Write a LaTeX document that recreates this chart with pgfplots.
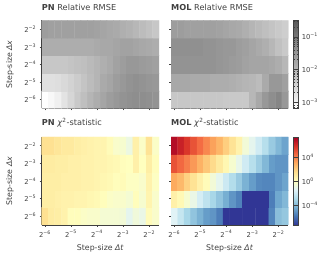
\documentclass[border=0pt]{standalone}
\usepackage{fontspec}
\setmainfont{DejaVu Sans}
\usepackage{pgfplots}
\pgfplotsset{compat=1.18}
\definecolor{ink}{gray}{0.25}
\pgfplotsset{
  greyscale/.style={colormap={greyscale}{gray=(1) gray=(0.35)},point meta min=-3.2,point meta max=-0.5},
  rdylbu/.style={colormap={rdylbu}{rgb255=(49,54,149) rgb255=(69,117,180) rgb255=(116,173,209) rgb255=(171,217,233) rgb255=(224,243,248) rgb255=(255,255,191) rgb255=(254,224,144) rgb255=(253,174,97) rgb255=(244,109,67) rgb255=(215,48,39) rgb255=(165,0,38)},point meta min=-7.3,point meta max=7.3},
  panel/.style={
    scale only axis,width=117.3pt,height=88pt,
    xmin=-6.125,xmax=-1.625,ymin=-6.5,ymax=-1.5,
    axis x line*=bottom,axis y line*=left,
    axis line style={-,draw=ink,line width=0.9pt},
    tick align=outside,major tick length=2pt,
    tick style={draw=ink,line width=0.6pt},
    xtick={-6,-5,-4,-3,-2},ytick={-6,-5,-4,-3,-2},
    tick label style={font=\fontsize{6.8}{7}\selectfont,text=ink},
    every axis y label/.style={at={(axis description cs:-0.27,0.5)},rotate=90,anchor=center,font=\fontsize{7.8}{8}\selectfont,text=ink},
    every axis x label/.style={at={(axis description cs:0.5,-0.27)},anchor=center,font=\fontsize{7.8}{8}\selectfont,text=ink},
    title style={font=\fontsize{8.2}{9}\selectfont,text=ink,at={(0,1)},anchor=south west,inner xsep=0pt,yshift=0pt},
    xticklabels={},yticklabels={},
    point meta=explicit,
    enlargelimits=false,
  },
  xnames/.style={xticklabels={2\textsuperscript{−6},2\textsuperscript{−5},2\textsuperscript{−4},2\textsuperscript{−3},2\textsuperscript{−2}},xlabel={Step-size \textit{Δt}}},
  ynames/.style={yticklabels={2\textsuperscript{−6},2\textsuperscript{−5},2\textsuperscript{−4},2\textsuperscript{−3},2\textsuperscript{−2}},ylabel={Step-size \textit{Δx}}},
  cbar/.style={colorbar,colorbar style={
    width=5pt,xshift=-4pt,
    axis line style={draw=ink,line width=0.6pt},
    tick style={draw=ink,line width=0.5pt},
    minor tick style={draw=ink,line width=0.25pt},
    tick label style={font=\fontsize{6.8}{7}\selectfont,text=ink},
    #1}},
}
\begin{document}
\begin{tikzpicture}
\useasboundingbox (0,0) rectangle (326pt,261pt);
% PN RMSE
\begin{axis}[panel,ynames,greyscale,at={(41.7pt,152.5pt)},anchor=south west,title={\textbf{PN} Relative RMSE}]
\addplot[matrix plot*,mesh/cols=18] coordinates {
(-6,-6)[-3.20](-5.75,-6)[-3.08](-5.5,-6)[-2.95](-5.25,-6)[-2.74](-5,-6)[-2.54](-4.75,-6)[-2.33](-4.5,-6)[-2.16](-4.25,-6)[-2.00](-4,-6)[-1.87](-3.75,-6)[-1.75](-3.5,-6)[-1.62](-3.25,-6)[-1.54](-3,-6)[-1.46](-2.75,-6)[-1.41](-2.5,-6)[-1.37](-2.25,-6)[-1.37](-2,-6)[-1.41](-1.75,-6)[-1.46]

(-6,-5)[-2.70](-5.75,-5)[-2.70](-5.5,-5)[-2.66](-5.25,-5)[-2.58](-5,-5)[-2.49](-4.75,-5)[-2.37](-4.5,-5)[-2.24](-4.25,-5)[-2.12](-4,-5)[-2.00](-3.75,-5)[-1.83](-3.5,-5)[-1.75](-3.25,-5)[-1.62](-3,-5)[-1.54](-2.75,-5)[-1.46](-2.5,-5)[-1.41](-2.25,-5)[-1.46](-2,-5)[-1.50](-1.75,-5)[-1.54]

(-6,-4)[-2.29](-5.75,-4)[-2.29](-5.5,-4)[-2.29](-5.25,-4)[-2.29](-5,-4)[-2.24](-4.75,-4)[-2.20](-4.5,-4)[-2.16](-4.25,-4)[-2.08](-4,-4)[-2.00](-3.75,-4)[-1.91](-3.5,-4)[-1.83](-3.25,-4)[-1.70](-3,-4)[-1.62](-2.75,-4)[-1.54](-2.5,-4)[-1.54](-2.25,-4)[-1.58](-2,-4)[-1.62](-1.75,-4)[-1.66]

(-6,-3)[-1.87](-5.75,-3)[-1.87](-5.5,-3)[-1.87](-5.25,-3)[-1.87](-5,-3)[-1.87](-4.75,-3)[-1.87](-4.5,-3)[-1.87](-4.25,-3)[-1.87](-4,-3)[-1.83](-3.75,-3)[-1.79](-3.5,-3)[-1.79](-3.25,-3)[-1.75](-3,-3)[-1.70](-2.75,-3)[-1.70](-2.5,-3)[-1.75](-2.25,-3)[-1.79](-2,-3)[-1.83](-1.75,-3)[-1.87]

(-6,-2)[-1.62](-5.75,-2)[-1.66](-5.5,-2)[-1.66](-5.25,-2)[-1.66](-5,-2)[-1.66](-4.75,-2)[-1.66](-4.5,-2)[-1.66](-4.25,-2)[-1.66](-4,-2)[-1.70](-3.75,-2)[-1.75](-3.5,-2)[-1.79](-3.25,-2)[-1.83](-3,-2)[-1.91](-2.75,-2)[-1.95](-2.5,-2)[-2.04](-2.25,-2)[-2.12](-2,-2)[-2.20](-1.75,-2)[-2.29]
};
\end{axis}
% MOL RMSE
\begin{axis}[panel,greyscale,at={(171pt,152.5pt)},anchor=south west,title={\textbf{MOL} Relative RMSE},
  cbar={ytick={-3,-2,-1},yticklabels={10\textsuperscript{−3},10\textsuperscript{−2},10\textsuperscript{−1}},minor ytick={-3.15,-3.1,-2.7,-2.52,-2.4,-2.3,-2.22,-2.15,-2.1,-2.05,-1.7,-1.52,-1.4,-1.3,-1.22,-1.15,-1.1,-1.05,-0.7,-0.52},minor tick length=1.5pt}]
\addplot[matrix plot*,mesh/cols=18] coordinates {
(-6,-6)[-2.29](-5.75,-6)[-2.29](-5.5,-6)[-2.29](-5.25,-6)[-2.29](-5,-6)[-2.29](-4.75,-6)[-2.29](-4.5,-6)[-2.29](-4.25,-6)[-2.29](-4,-6)[-2.33](-3.75,-6)[-2.33](-3.5,-6)[-2.33](-3.25,-6)[-2.33](-3,-6)[-2.04](-2.75,-6)[-1.79](-2.5,-6)[-1.54](-2.25,-6)[-1.37](-2,-6)[-1.25](-1.75,-6)[-1.54]

(-6,-5)[-1.79](-5.75,-5)[-1.79](-5.5,-5)[-1.79](-5.25,-5)[-1.83](-5,-5)[-1.83](-4.75,-5)[-1.83](-4.5,-5)[-1.87](-4.25,-5)[-1.87](-4,-5)[-1.87](-3.75,-5)[-1.91](-3.5,-5)[-1.95](-3.25,-5)[-2.00](-3,-5)[-2.04](-2.75,-5)[-2.12](-2.5,-5)[-1.83](-2.25,-5)[-1.54](-2,-5)[-1.54](-1.75,-5)[-1.66]

(-6,-4)[-1.46](-5.75,-4)[-1.46](-5.5,-4)[-1.46](-5.25,-4)[-1.46](-5,-4)[-1.46](-4.75,-4)[-1.46](-4.5,-4)[-1.46](-4.25,-4)[-1.50](-4,-4)[-1.54](-3.75,-4)[-1.58](-3.5,-4)[-1.62](-3.25,-4)[-1.70](-3,-4)[-1.75](-2.75,-4)[-1.75](-2.5,-4)[-1.75](-2.25,-4)[-1.79](-2,-4)[-1.87](-1.75,-4)[-2.04]

(-6,-3)[-1.41](-5.75,-3)[-1.41](-5.5,-3)[-1.41](-5.25,-3)[-1.41](-5,-3)[-1.41](-4.75,-3)[-1.46](-4.5,-3)[-1.46](-4.25,-3)[-1.50](-4,-3)[-1.54](-3.75,-3)[-1.54](-3.5,-3)[-1.62](-3.25,-3)[-1.66](-3,-3)[-1.75](-2.75,-3)[-1.83](-2.5,-3)[-1.91](-2.25,-3)[-2.04](-2,-3)[-2.20](-1.75,-3)[-2.33]

(-6,-2)[-1.62](-5.75,-2)[-1.62](-5.5,-2)[-1.66](-5.25,-2)[-1.66](-5,-2)[-1.66](-4.75,-2)[-1.66](-4.5,-2)[-1.66](-4.25,-2)[-1.70](-4,-2)[-1.75](-3.75,-2)[-1.79](-3.5,-2)[-1.83](-3.25,-2)[-1.91](-3,-2)[-2.00](-2.75,-2)[-2.08](-2.5,-2)[-2.16](-2.25,-2)[-2.24](-2,-2)[-2.33](-1.75,-2)[-2.41]
};
\end{axis}
% PN chi2
\begin{axis}[panel,xnames,ynames,rdylbu,at={(41.7pt,36pt)},anchor=south west,title={\textbf{PN} \textit{χ}\textsuperscript{2}-statistic}]
\addplot[matrix plot*,mesh/cols=18] coordinates {
(-6,-6)[1.4](-5.75,-6)[0.9](-5.5,-6)[0.8](-5.25,-6)[0.6](-5,-6)[0.1](-4.75,-6)[0.1](-4.5,-6)[-0.2](-4.25,-6)[-0.3](-4,-6)[-0.3](-3.75,-6)[-0.5](-3.5,-6)[-0.5](-3.25,-6)[-0.5](-3,-6)[-0.6](-2.75,-6)[-1.2](-2.5,-6)[-0.7](-2.25,-6)[-1.0](-2,-6)[0.2](-1.75,-6)[-0.3]

(-6,-5)[0.8](-5.75,-5)[0.8](-5.5,-5)[0.7](-5.25,-5)[0.6](-5,-5)[0.6](-4.75,-5)[0.5](-4.5,-5)[0.5](-4.25,-5)[0.4](-4,-5)[0.3](-3.75,-5)[0.1](-3.5,-5)[-0.2](-3.25,-5)[-0.3](-3,-5)[-0.3](-2.75,-5)[-0.5](-2.5,-5)[0.1](-2.25,-5)[-0.4](-2,-5)[0.5](-1.75,-5)[-0.3]

(-6,-4)[0.8](-5.75,-4)[0.8](-5.5,-4)[0.8](-5.25,-4)[0.7](-5,-4)[0.7](-4.75,-4)[0.7](-4.5,-4)[0.6](-4.25,-4)[0.6](-4,-4)[0.5](-3.75,-4)[0.4](-3.5,-4)[0.3](-3.25,-4)[0.1](-3,-4)[0.2](-2.75,-4)[-0.1](-2.5,-4)[-0.1](-2.25,-4)[-0.3](-2,-4)[0.6](-1.75,-4)[-0.1]

(-6,-3)[0.9](-5.75,-3)[0.9](-5.5,-3)[0.8](-5.25,-3)[0.8](-5,-3)[0.7](-4.75,-3)[0.7](-4.5,-3)[0.6](-4.25,-3)[0.6](-4,-3)[0.5](-3.75,-3)[0.5](-3.5,-3)[0.4](-3.25,-3)[0.3](-3,-3)[0.1](-2.75,-3)[0.0](-2.5,-3)[0.7](-2.25,-3)[0.0](-2,-3)[0.8](-1.75,-3)[0.1]

(-6,-2)[1.4](-5.75,-2)[1.4](-5.5,-2)[1.2](-5.25,-2)[1.0](-5,-2)[1.0](-4.75,-2)[0.8](-4.5,-2)[0.7](-4.25,-2)[0.6](-4,-2)[0.5](-3.75,-2)[0.5](-3.5,-2)[0.2](-3.25,-2)[-0.3](-3,-2)[-0.4](-2.75,-2)[-0.9](-2.5,-2)[0.7](-2.25,-2)[-0.2](-2,-2)[1.3](-1.75,-2)[-0.2]
};
\end{axis}
% MOL chi2
\begin{axis}[panel,xnames,rdylbu,at={(171pt,36pt)},anchor=south west,title={\textbf{MOL} \textit{χ}\textsuperscript{2}-statistic},
  cbar={ytick={-4,0,4},yticklabels={10\textsuperscript{−4},10\textsuperscript{0},10\textsuperscript{4}}}]
\addplot[matrix plot*,mesh/cols=18] coordinates {
(-6,-6)[-1.4](-5.75,-6)[-2.2](-5.5,-6)[-3.0](-5.25,-6)[-3.6](-5,-6)[-4.2](-4.75,-6)[-4.8](-4.5,-6)[-5.0](-4.25,-6)[-5.6](-4,-6)[-7.3](-3.75,-6)[-7.3](-3.5,-6)[-7.3](-3.25,-6)[-7.3](-3,-6)[-7.3](-2.75,-6)[-7.3](-2.5,-6)[-7.3](-2.25,-6)[-5.4](-2,-6)[-3.8](-1.75,-6)[-3.5]

(-6,-5)[0.7](-5.75,-5)[0.3](-5.5,-5)[-0.4](-5.25,-5)[-1.0](-5,-5)[-1.8](-4.75,-5)[-2.4](-4.5,-5)[-3.0](-4.25,-5)[-3.6](-4,-5)[-4.3](-3.75,-5)[-5.0](-3.5,-5)[-5.5](-3.25,-5)[-7.3](-3,-5)[-7.3](-2.75,-5)[-7.3](-2.5,-5)[-7.3](-2.25,-5)[-5.6](-2,-5)[-4.5](-1.75,-5)[-4.0]

(-6,-4)[3.0](-5.75,-4)[2.6](-5.5,-4)[1.9](-5.25,-4)[1.3](-5,-4)[0.7](-4.75,-4)[0.2](-4.5,-4)[-0.6](-4.25,-4)[-1.2](-4,-4)[-2.0](-3.75,-4)[-2.7](-3.5,-4)[-3.4](-3.25,-4)[-4.2](-3,-4)[-4.8](-2.75,-4)[-5.3](-2.5,-4)[-5.4](-2.25,-4)[-5.4](-2,-4)[-5.0](-1.75,-4)[-4.6]

(-6,-3)[5.0](-5.75,-3)[4.5](-5.5,-3)[4.0](-5.25,-3)[3.4](-5,-3)[2.8](-4.75,-3)[2.2](-4.5,-3)[1.6](-4.25,-3)[1.0](-4,-3)[0.4](-3.75,-3)[-0.4](-3.5,-3)[-1.1](-3.25,-3)[-1.9](-3,-3)[-2.6](-2.75,-3)[-3.3](-2.5,-3)[-4.0](-2.25,-3)[-4.8](-2,-3)[-5.0](-1.75,-3)[-5.0]

(-6,-2)[6.9](-5.75,-2)[6.3](-5.5,-2)[5.7](-5.25,-2)[5.0](-5,-2)[4.4](-4.75,-2)[3.8](-4.5,-2)[3.2](-4.25,-2)[2.7](-4,-2)[2.0](-3.75,-2)[1.3](-3.5,-2)[0.6](-3.25,-2)[-0.6](-3,-2)[-1.2](-2.75,-2)[-1.9](-2.5,-2)[-2.6](-2.25,-2)[-3.4](-2,-2)[-4.0](-1.75,-2)[-4.6]
};
\end{axis}
\end{tikzpicture}
\end{document}
